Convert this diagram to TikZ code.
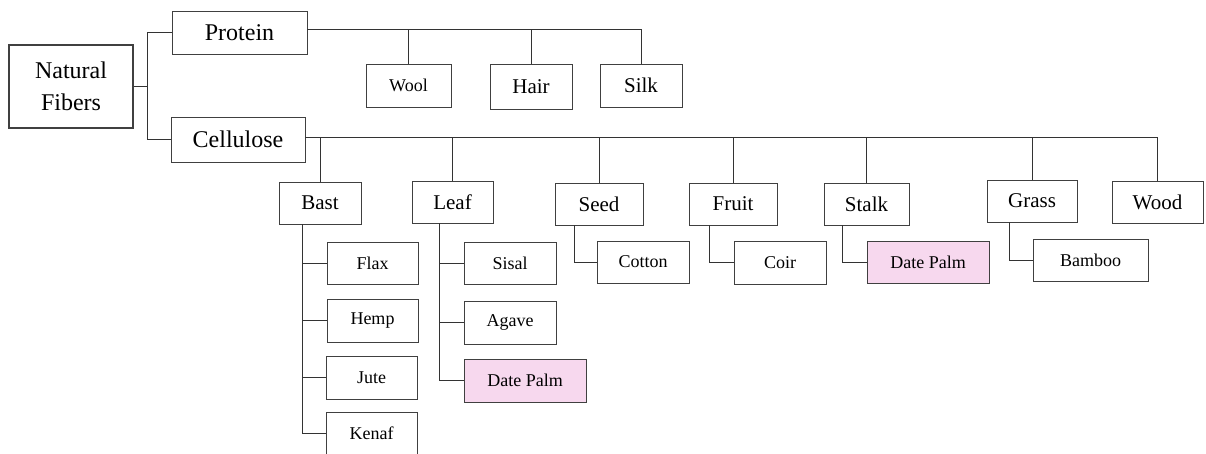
\documentclass[tikz,border=0pt]{standalone}
\usepackage{fontspec}
\setmainfont{Liberation Serif}
\definecolor{pinkfill}{HTML}{F7D8EE}
\begin{document}
\begin{tikzpicture}[x=1pt,y=-1pt,
  box/.style={draw=black!75, line width=0.9pt, inner sep=0pt, align=center},
  big/.style={box, font=\fontsize{24}{32}\selectfont},
  mid/.style={box, font=\fontsize{21}{25}\selectfont},
  sml/.style={box, font=\fontsize{18}{22}\selectfont},
  pk/.style={fill=pinkfill},
  conn/.style={draw=black!80, line width=0.9pt}]
\clip (0,0) rectangle (1206,453);
\fill[white] (0,0) rectangle (1206,453);
% top level
\node[big, line width=1.8pt, minimum width=124pt, minimum height=83pt] (nf) at (71,86.5) {Natural\\Fibers};
\node[big, minimum width=135pt, minimum height=43pt] (protein) at (239.5,32.5) {Protein};
\node[big, minimum width=134pt, minimum height=45pt] (cel) at (238,139.5) {Cellulose};
% protein children
\node[sml, minimum width=85pt, minimum height=43pt] (wool) at (408.5,85.5) {Wool};
\node[mid, minimum width=82pt, minimum height=45pt] (hair) at (531,86.5) {Hair};
\node[mid, minimum width=82pt, minimum height=43pt] (silk) at (641,85.5) {Silk};
% cellulose children
\node[mid, minimum width=82pt, minimum height=42pt] (bast) at (320,203) {Bast};
\node[mid, minimum width=81pt, minimum height=42pt] (leaf) at (452.5,202) {Leaf};
\node[mid, minimum width=88pt, minimum height=42pt] (seed) at (599,204) {Seed};
\node[mid, minimum width=88pt, minimum height=42pt] (fruit) at (733,204) {Fruit};
\node[mid, minimum width=85pt, minimum height=42pt] (stalk) at (866.5,204) {Stalk};
\node[mid, minimum width=90pt, minimum height=42pt] (grass) at (1032,201) {Grass};
\node[mid, minimum width=91pt, minimum height=42pt] (wood) at (1157.5,202) {Wood};
% bast children
\node[sml, minimum width=91pt, minimum height=42pt] (flax) at (372.5,263) {Flax};
\node[sml, minimum width=91pt, minimum height=43pt] (hemp) at (372.5,320.5) {Hemp};
\node[sml, minimum width=91pt, minimum height=43pt] (jute) at (371.5,377.5) {Jute};
\node[sml, minimum width=91pt, minimum height=43pt] (kenaf) at (371.5,433.5) {Kenaf};
% leaf children
\node[sml, minimum width=92pt, minimum height=42pt] (sisal) at (510,263) {Sisal};
\node[sml, minimum width=92pt, minimum height=43pt] (agave) at (510,322.5) {Agave};
\node[sml, pk, minimum width=122pt, minimum height=43pt] (dp1) at (525,380.5) {Date Palm};
% other children
\node[sml, minimum width=92pt, minimum height=42pt] (cotton) at (643,262) {Cotton};
\node[sml, minimum width=92pt, minimum height=43pt] (coir) at (780,262.5) {Coir};
\node[sml, pk, minimum width=122pt, minimum height=42pt] (dp2) at (928,262) {Date Palm};
\node[sml, minimum width=115pt, minimum height=42pt] (bamboo) at (1090.5,260) {Bamboo};
% connectors: root
\coordinate (nfj) at ([xshift=14pt]nf.east);
\draw[conn] (nf.east) -- (nfj);
\draw[conn] (protein.west) -| (nfj) |- (cel.west);
% protein
\coordinate (pj) at ([yshift=3pt]protein.east);
\draw[conn] (pj) -| (silk.north);
\draw[conn] (wool.north) -- (wool.north |- pj);
\draw[conn] (hair.north) -- (hair.north |- pj);
% cellulose
\coordinate (cj) at ([yshift=2pt]cel.east);
\draw[conn] (cj) -| (wood.north);
\foreach \n in {bast,leaf,seed,fruit,stalk,grass}
  \draw[conn] (\n.north) -- (\n.north |- cj);
% bast
\coordinate (bv) at ([xshift=-18pt]bast.south);
\draw[conn] (bv) |- (kenaf.west);
\foreach \n in {flax,hemp,jute} \draw[conn] (\n.west) -- (\n.west -| bv);
% leaf
\coordinate (lv) at ([xshift=-13.5pt]leaf.south);
\draw[conn] (lv) |- (dp1.west);
\foreach \n in {sisal,agave} \draw[conn] (\n.west) -- (\n.west -| lv);
% single children
\draw[conn] ([xshift=-25pt]seed.south) |- (cotton.west);
\draw[conn] ([xshift=-24pt]fruit.south) |- (coir.west);
\draw[conn] ([xshift=-24.5pt]stalk.south) |- (dp2.west);
\draw[conn] ([xshift=-23pt]grass.south) |- (bamboo.west);
\end{tikzpicture}
\end{document}
